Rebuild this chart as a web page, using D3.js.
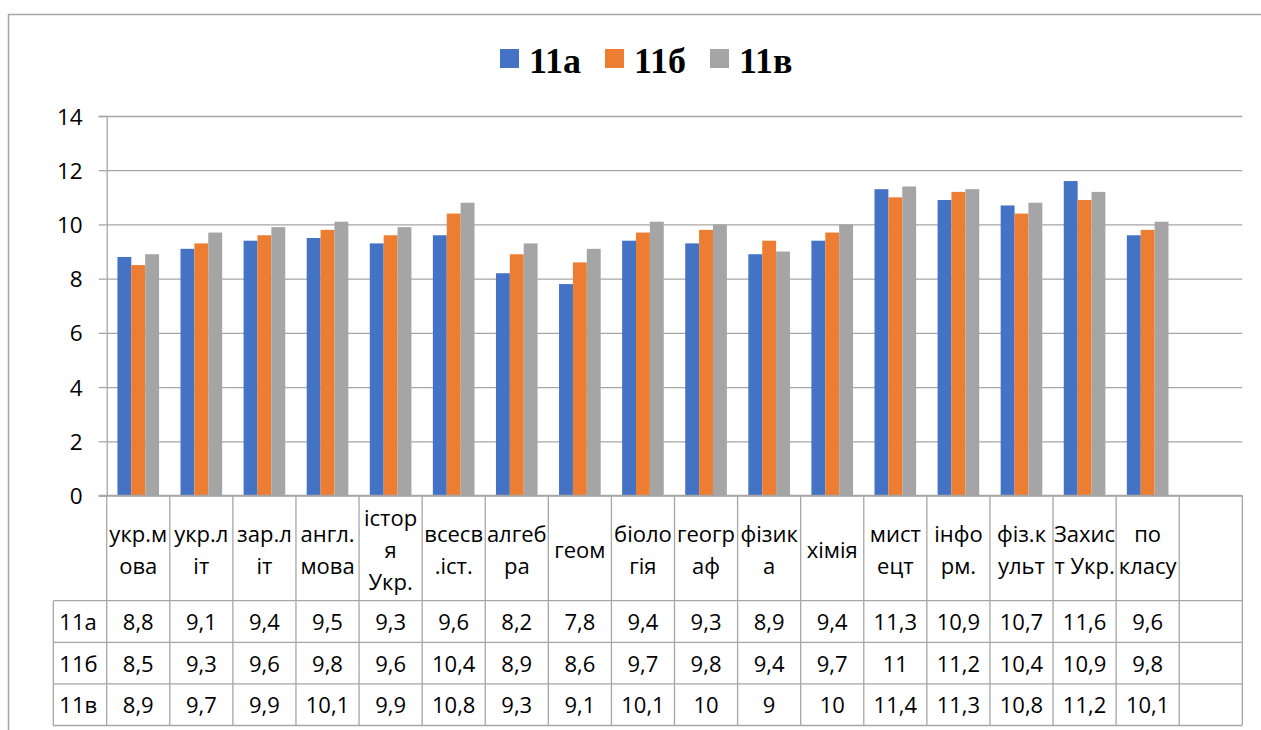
<!DOCTYPE html>
<html>
<head>
<meta charset="utf-8">
<script src="https://cdnjs.cloudflare.com/ajax/libs/d3/7.8.5/d3.min.js"></script>
<style>
html,body{margin:0;padding:0;background:#fff;}
svg{display:block;}
text{font-family:"Open Sans","Noto Sans",sans-serif;fill:#000;}
text.legend{font-family:"Liberation Serif","Times New Roman",serif;font-weight:bold;}
</style>
</head>
<body>
<svg id="chart" width="1261" height="730"></svg>
<script>
// ---- data ----
const categories = ["укр.мова","укр.літ","зар.літ","англ.мова","історя Укр.","всесв.іст.","алгебра","геом","біологія","географ","фізика","хімія","мистецт","інформ.","фіз.культ","Захист Укр.","по класу",""];
const categoryLines = [["укр.м","ова"],["укр.л","іт"],["зар.л","іт"],["англ.","мова"],["істор","я","Укр."],["всесв",".іст."],["алгеб","ра"],["геом"],["біоло","гія"],["геогр","аф"],["фізик","а"],["хімія"],["мист","ецт"],["інфо","рм."],["фіз.к","ульт"],["Захис","т Укр."],["по","класу"],[]];
const seriesNames = ["11а","11б","11в"];
const values11a = [8.8,9.1,9.4,9.5,9.3,9.6,8.2,7.8,9.4,9.3,8.9,9.4,11.3,10.9,10.7,11.6,9.6];
const values11b = [8.5,9.3,9.6,9.8,9.6,10.4,8.9,8.6,9.7,9.8,9.4,9.7,11,11.2,10.4,10.9,9.8];
const values11v = [8.9,9.7,9.9,10.1,9.9,10.8,9.3,9.1,10.1,10,9,10,11.4,11.3,10.8,11.2,10.1];
const seriesValues = [values11a, values11b, values11v];
const colors = ["#4472C4","#ED7D31","#A5A5A5"];
const yTicks = [0,2,4,6,8,10,12,14];

// ---- layout ----
const svg = d3.select("#chart");
const L = 106.7, R = 1242.3, T = 116, B = 495.5;
const tableLeft = 53.3;
const headerBottom = 600.7;
const rowH = 41.6;
const lineCol = "#a6a6a6";

const x0 = d3.scaleBand().domain(d3.range(categories.length)).range([L, R]).padding(0);
const x1 = d3.scaleBand().domain(d3.range(seriesNames.length))
  .range([x0.bandwidth()*0.17, x0.bandwidth()*0.83]).padding(0);
const y = d3.scaleLinear().domain([0,14]).range([B, T]);

// outer border
svg.append("path").attr("d","M8.5,731 V14.5 H1262").attr("fill","none")
  .attr("stroke","#a6a6a6").attr("stroke-width",1.5);

// gridlines + y axis
const yAxis = d3.axisLeft(y).tickValues(yTicks).tickSize(8).tickPadding(16)
  .tickFormat(d3.format("d"));
const gy = svg.append("g").attr("transform",`translate(${L},0)`).call(yAxis);
gy.select(".domain").attr("stroke",lineCol).attr("stroke-width",1.3);
gy.selectAll(".tick line").attr("stroke",lineCol).attr("stroke-width",1.3);
gy.selectAll(".tick text").style("font-size","22.5px").attr("fill","#000").attr("dy","0.36em");
gy.selectAll(".tick").append("line").attr("x1",0).attr("x2",R-L)
  .attr("stroke",lineCol).attr("stroke-width",1.3);

// bars
const barG = svg.append("g");
seriesValues.forEach((vals, s) => {
  barG.selectAll(null).data(vals).enter().append("rect")
    .attr("x",(d,i)=>x0(i)+x1(s))
    .attr("y",d=>y(d))
    .attr("width",x1.bandwidth())
    .attr("height",d=>y(0)-y(d))
    .attr("fill",colors[s]);
});

// data table
const tg = svg.append("g");
const rowsBottom = headerBottom + rowH*seriesNames.length;
const bounds = categories.map((c,i)=>x0(i)).concat([R]);
tg.selectAll(null).data(bounds).enter().append("line")
  .attr("x1",d=>d).attr("x2",d=>d).attr("y1",B).attr("y2",rowsBottom)
  .attr("stroke",lineCol).attr("stroke-width",1.3);
tg.append("line").attr("x1",tableLeft).attr("x2",tableLeft).attr("y1",headerBottom).attr("y2",rowsBottom)
  .attr("stroke",lineCol).attr("stroke-width",1.3);
const hl = [headerBottom].concat(seriesNames.map((s,i)=>headerBottom+rowH*(i+1)));
tg.selectAll(null).data(hl).enter().append("line")
  .attr("x1",tableLeft).attr("x2",R).attr("y1",d=>d).attr("y2",d=>d)
  .attr("stroke",lineCol).attr("stroke-width",1.3);
svg.append("line").attr("x1",L-8).attr("x2",R).attr("y1",B).attr("y2",B)
  .attr("stroke",lineCol).attr("stroke-width",1.3);

// header labels
const headerCenter = (B+headerBottom)/2 + 9.4;
const lh = 32;
categoryLines.forEach((lines,i)=>{
  const t = tg.append("text").attr("text-anchor","middle").style("font-size","22px");
  lines.forEach((ln,k)=>{
    t.append("tspan").attr("x",x0(i)+x0.bandwidth()/2)
      .attr("y",headerCenter + (k-(lines.length-1)/2)*lh).text(ln);
  });
});

// row labels and values
seriesNames.forEach((name,s)=>{
  const yb = headerBottom + rowH*s + rowH/2 + 8.5;
  tg.append("text").attr("x",tableLeft+6).attr("y",yb).style("font-size","22px").text(name);
  tg.selectAll(null).data(seriesValues[s]).enter().append("text")
    .attr("x",(d,i)=>x0(i)+x0.bandwidth()/2).attr("y",yb)
    .attr("text-anchor","middle").style("font-size","22px")
    .text(d=>String(d).replace(".",","));
});

// legend
const legendX = [500,605,710];
const lg = svg.append("g");
seriesNames.forEach((name,s)=>{
  lg.append("rect").attr("x",legendX[s]).attr("y",49).attr("width",19).attr("height",19).attr("fill",colors[s]);
  lg.append("text").attr("class","legend").attr("x",legendX[s]+29).attr("y",72.5)
    .style("font-size","36px").text(name);
});
</script>
</body>
</html>
